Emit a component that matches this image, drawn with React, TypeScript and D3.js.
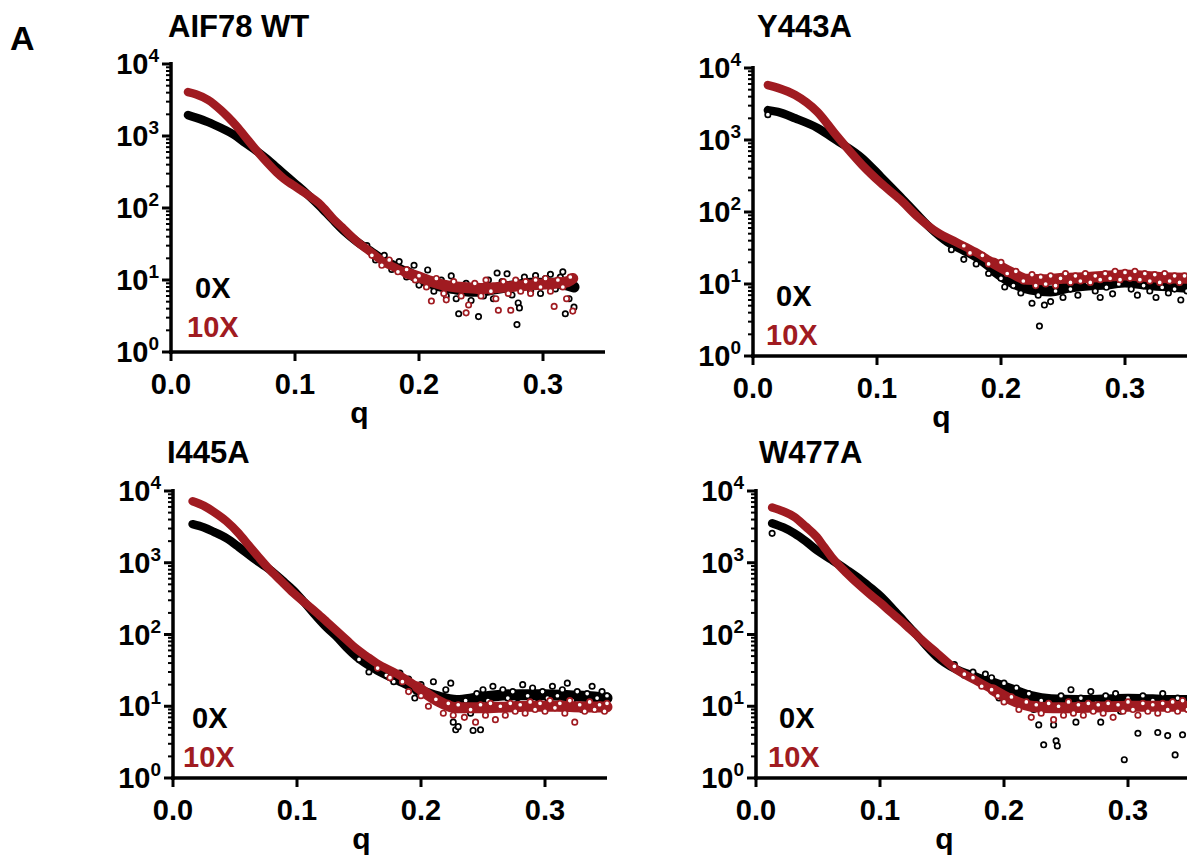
import * as d3 from "d3";

// values (q in 1/Å, intensity in a.u.)

// AIF78 WT
const wt0Q = [0.0137, 0.02, 0.03, 0.04, 0.05, 0.06, 0.07, 0.08, 0.09, 0.1, 0.11, 0.12, 0.13, 0.14, 0.15, 0.16, 0.17, 0.18, 0.19, 0.2, 0.21, 0.22, 0.23, 0.24, 0.25, 0.26, 0.27, 0.28, 0.29, 0.3, 0.31, 0.32, 0.325];
const wt0I = [1950, 1800, 1560, 1300, 1060, 800, 600, 440, 310, 220, 155, 106, 70, 47, 34, 26, 20, 16, 13, 10.5, 9, 8, 7.5, 7, 7, 7.5, 8, 8.5, 9, 9, 9, 8.5, 8];
const wt10Q = [0.0137, 0.02, 0.03, 0.04, 0.046, 0.054, 0.062, 0.07, 0.078, 0.085, 0.091, 0.098, 0.105, 0.112, 0.119, 0.125, 0.131, 0.138, 0.145, 0.152, 0.159, 0.166, 0.172, 0.18, 0.19, 0.2, 0.21, 0.22, 0.23, 0.24, 0.25, 0.26, 0.27, 0.28, 0.29, 0.3, 0.31, 0.32, 0.324];
const wt10I = [4070, 3800, 3160, 2300, 1830, 1300, 880, 600, 420, 315, 255, 210, 175, 145, 118, 92, 70, 54, 41, 32, 26, 21, 17.5, 15, 12.5, 11, 9.5, 8.5, 8, 7.8, 7.6, 7.8, 8, 8.3, 8.5, 8.8, 9, 9.5, 10.5];
const wt0Noise = [[0.158, 30], [0.165, 19], [0.172, 22], [0.178, 14], [0.184, 18], [0.19, 11], [0.196, 16], [0.2, 8.5], [0.207, 13.8], [0.212, 7], [0.218, 10], [0.222, 6], [0.226, 11.4], [0.23, 5.5], [0.232, 3.4], [0.238, 9], [0.242, 5.2], [0.248, 3.1], [0.252, 6], [0.256, 10], [0.26, 5.5], [0.263, 12.5], [0.267, 9.5], [0.271, 12.2], [0.275, 6.2], [0.279, 2.4], [0.28, 4.8], [0.281, 4.1], [0.285, 11], [0.29, 7], [0.294, 11.5], [0.298, 6.5], [0.302, 10.5], [0.306, 12], [0.31, 7.5], [0.314, 11], [0.316, 13], [0.318, 3.4], [0.321, 5.5], [0.323, 10], [0.325, 4.2]];
const wt10Noise = [[0.162, 22], [0.17, 16], [0.176, 19], [0.183, 13], [0.19, 14], [0.197, 10], [0.2, 11.5], [0.206, 8], [0.21, 5.1], [0.214, 10.5], [0.22, 6.5], [0.222, 5.3], [0.228, 9.5], [0.234, 6], [0.238, 3.5], [0.24, 4.5], [0.245, 9], [0.25, 6], [0.254, 10], [0.258, 7], [0.262, 5.5], [0.264, 3.8], [0.268, 9.5], [0.272, 6.5], [0.274, 3.8], [0.278, 10], [0.282, 7], [0.286, 9.5], [0.29, 6.5], [0.294, 10], [0.298, 8], [0.302, 10.5], [0.306, 7], [0.309, 4.3], [0.312, 10], [0.316, 8], [0.319, 5.5], [0.322, 11], [0.324, 3.7]];

// Y443A
const y0Q = [0.012, 0.02, 0.034, 0.052, 0.067, 0.088, 0.103, 0.119, 0.133, 0.143, 0.157, 0.17, 0.179, 0.194, 0.209, 0.224, 0.24, 0.254, 0.27, 0.285, 0.3, 0.315, 0.33, 0.35];
const y0I = [2600, 2450, 2000, 1470, 1000, 560, 310, 162, 90, 60, 38, 29, 24, 15.6, 10.5, 8.5, 8, 9, 9.7, 10, 10.7, 10, 9.5, 9];
const y10Q = [0.012, 0.02, 0.034, 0.052, 0.067, 0.088, 0.103, 0.119, 0.133, 0.148, 0.164, 0.179, 0.194, 0.209, 0.221, 0.235, 0.25, 0.27, 0.29, 0.3, 0.315, 0.33, 0.35];
const y10I = [5800, 5300, 4220, 2450, 1170, 450, 253, 147, 85, 53, 38, 28, 19.6, 14.2, 11.6, 11.5, 12, 12.3, 13, 13.3, 12.8, 12.3, 12];
const y0Noise = [[0.012, 2250], [0.16, 30], [0.17, 22], [0.18, 19], [0.19, 14], [0.2, 12], [0.203, 9.1], [0.21, 9.5], [0.216, 7.5], [0.225, 5.4], [0.23, 7], [0.231, 2.6], [0.235, 5.1], [0.24, 5.7], [0.244, 8], [0.25, 6.5], [0.256, 8.5], [0.262, 7], [0.27, 10.5], [0.276, 8], [0.28, 6.5], [0.285, 9], [0.29, 7.3], [0.295, 10], [0.3, 14], [0.305, 8.5], [0.31, 7], [0.315, 9.5], [0.32, 8], [0.325, 6.5], [0.33, 9], [0.335, 7.5], [0.34, 8.5], [0.345, 6], [0.35, 8]];
const y10Noise = [[0.17, 34], [0.175, 27], [0.185, 25], [0.19, 19], [0.2, 20], [0.205, 14], [0.212, 15], [0.218, 11], [0.225, 13.5], [0.228, 9.5], [0.232, 12.5], [0.236, 10], [0.24, 13], [0.244, 9.5], [0.248, 12], [0.252, 14], [0.256, 10.5], [0.26, 13], [0.264, 11], [0.268, 14], [0.272, 10.5], [0.276, 13], [0.28, 11.5], [0.284, 14], [0.288, 12], [0.292, 15], [0.296, 11.5], [0.3, 14.5], [0.304, 12], [0.308, 15], [0.312, 11.5], [0.316, 14], [0.32, 11], [0.324, 13.5], [0.328, 10.5], [0.332, 14], [0.336, 11], [0.34, 13], [0.344, 10.5], [0.348, 13]];

// I445A
const i0Q = [0.0158, 0.025, 0.033, 0.043, 0.053, 0.065, 0.078, 0.088, 0.097, 0.106, 0.116, 0.124, 0.132, 0.14, 0.148, 0.164, 0.181, 0.197, 0.213, 0.229, 0.245, 0.26, 0.28, 0.3, 0.32, 0.34, 0.35];
const i0I = [3450, 3100, 2690, 2200, 1660, 1150, 800, 570, 415, 280, 176, 125, 93, 66, 49, 32, 23, 17, 13.6, 12, 13, 14, 14.5, 14.5, 14, 13.5, 13];
const i10Q = [0.0158, 0.025, 0.033, 0.043, 0.053, 0.061, 0.069, 0.078, 0.088, 0.097, 0.106, 0.116, 0.124, 0.132, 0.14, 0.148, 0.156, 0.164, 0.181, 0.197, 0.213, 0.229, 0.25, 0.27, 0.29, 0.31, 0.33, 0.35];
const i10I = [7200, 6200, 5100, 3800, 2570, 1750, 1200, 800, 540, 380, 280, 200, 150, 112, 84, 63, 50, 40, 28, 18.6, 12, 9.5, 9.5, 9.8, 10, 10, 9.8, 9.8];
const i0Noise = [[0.15, 45], [0.158, 30], [0.165, 38], [0.172, 27], [0.178, 22], [0.183, 29], [0.19, 24], [0.195, 13], [0.2, 20], [0.205, 15], [0.21, 22], [0.215, 11], [0.22, 17], [0.224, 21], [0.226, 6], [0.228, 4.7], [0.23, 5.2], [0.232, 9], [0.236, 12], [0.24, 8], [0.242, 4.6], [0.245, 15], [0.248, 4.7], [0.25, 17], [0.254, 12], [0.258, 19], [0.262, 10], [0.266, 17], [0.27, 13], [0.274, 16], [0.278, 11], [0.282, 20], [0.286, 14], [0.29, 18], [0.294, 11], [0.298, 16], [0.302, 13], [0.306, 19], [0.31, 14], [0.314, 17], [0.318, 21], [0.322, 12], [0.326, 16], [0.33, 9], [0.334, 15], [0.338, 19], [0.342, 13], [0.346, 16], [0.35, 14]];
const i10Noise = [[0.165, 34], [0.175, 25], [0.185, 22], [0.19, 16], [0.2, 14], [0.206, 10], [0.212, 12.5], [0.218, 8], [0.222, 11], [0.226, 7.5], [0.23, 10.5], [0.235, 7], [0.24, 9], [0.244, 6], [0.248, 10.5], [0.252, 7.5], [0.256, 11], [0.26, 6.5], [0.264, 10], [0.268, 7.5], [0.272, 11], [0.276, 8.5], [0.28, 10.5], [0.284, 8], [0.288, 11.5], [0.292, 9], [0.296, 11], [0.3, 8.5], [0.304, 12], [0.308, 9.5], [0.312, 11], [0.316, 8], [0.32, 12], [0.324, 6], [0.328, 10.5], [0.332, 8.5], [0.336, 11.5], [0.34, 9], [0.344, 10.5], [0.348, 8.5], [0.35, 11]];

// W477A
const w0Q = [0.013, 0.022, 0.031, 0.04, 0.049, 0.061, 0.073, 0.085, 0.093, 0.101, 0.108, 0.116, 0.124, 0.131, 0.138, 0.146, 0.161, 0.177, 0.191, 0.206, 0.222, 0.238, 0.26, 0.28, 0.3, 0.32, 0.34, 0.35];
const w0I = [3550, 3100, 2570, 2000, 1500, 1100, 800, 570, 440, 335, 250, 177, 125, 93, 68, 49, 33, 26, 21, 17, 13.6, 12.3, 12, 12.2, 12.5, 12.3, 12, 12];
const w10Q = [0.013, 0.022, 0.031, 0.04, 0.049, 0.055, 0.061, 0.073, 0.085, 0.093, 0.101, 0.108, 0.116, 0.124, 0.131, 0.138, 0.146, 0.161, 0.177, 0.191, 0.206, 0.222, 0.24, 0.26, 0.28, 0.3, 0.32, 0.34, 0.35];
const w10I = [5900, 5200, 4350, 3200, 2290, 1650, 1200, 720, 460, 350, 270, 210, 160, 120, 93, 72, 55, 33, 23, 17, 12.3, 10, 9.5, 9.6, 9.8, 10, 10, 10, 10];
const w0Noise = [[0.013, 2570], [0.15, 45], [0.16, 38], [0.168, 27], [0.175, 30], [0.18, 22], [0.185, 28], [0.19, 25], [0.196, 13], [0.2, 21], [0.205, 14], [0.21, 18], [0.215, 11], [0.22, 15], [0.224, 9], [0.228, 5.5], [0.23, 12], [0.232, 2.9], [0.236, 10], [0.24, 5.5], [0.242, 3.3], [0.243, 2.8], [0.246, 14], [0.25, 9], [0.254, 17], [0.258, 6], [0.262, 13], [0.266, 9.5], [0.27, 16], [0.274, 11], [0.278, 6], [0.282, 14], [0.286, 10], [0.29, 15], [0.294, 8.5], [0.297, 1.8], [0.3, 13], [0.304, 9.5], [0.308, 4.2], [0.312, 14], [0.316, 9], [0.32, 12], [0.324, 4.3], [0.328, 15], [0.332, 3.9], [0.335, 10], [0.338, 2.1], [0.34, 13], [0.344, 4], [0.348, 11]];
const w10Noise = [[0.16, 36], [0.168, 28], [0.175, 25], [0.182, 19], [0.19, 17], [0.195, 14], [0.2, 11.5], [0.206, 13.5], [0.212, 9], [0.218, 11.5], [0.222, 7], [0.226, 10.5], [0.23, 8], [0.236, 11], [0.24, 6.5], [0.244, 10], [0.248, 7.5], [0.252, 11.5], [0.256, 8], [0.26, 10.5], [0.264, 7.5], [0.268, 11], [0.272, 8.5], [0.276, 10.5], [0.28, 8], [0.284, 11], [0.288, 7], [0.292, 10.5], [0.296, 8.5], [0.3, 11.5], [0.304, 9], [0.308, 7.5], [0.312, 11], [0.316, 8.5], [0.32, 10.5], [0.324, 8], [0.328, 11], [0.332, 9], [0.336, 11.5], [0.34, 8.5], [0.344, 12], [0.348, 9]];

const xTicks = [0, 0.1, 0.2, 0.3];
const yDecades = [0, 1, 2, 3, 4];

const RED = "#a01b21";
const FONT = "'Liberation Sans', Arial, Helvetica, sans-serif";

const panels = [
  { title: "AIF78 WT", s0: [wt0Q, wt0I, wt0Noise], s10: [wt10Q, wt10I, wt10Noise], x0: 171, top: 64, bottom: 352, tx: 168, ty: 37, l0: [195, 298], l10: [187, 337] },
  { title: "Y443A", s0: [y0Q, y0I, y0Noise], s10: [y10Q, y10I, y10Noise], x0: 753, top: 68, bottom: 356, tx: 757, ty: 37, l0: [776, 306], l10: [766, 345] },
  { title: "I445A", s0: [i0Q, i0I, i0Noise], s10: [i10Q, i10I, i10Noise], x0: 173, top: 491, bottom: 778, tx: 167, ty: 463, l0: [192, 728], l10: [183, 767] },
  { title: "W477A", s0: [w0Q, w0I, w0Noise], s10: [w10Q, w10I, w10Noise], x0: 756, top: 491, bottom: 778, tx: 759, ty: 463, l0: [779, 728], l10: [768, 767] },
];

function Series({ q, I, noise, x, y, color }) {
  const pts = q.map((d, i) => [d, I[i]]);
  const line = d3.line().x(d => x(d[0])).y(d => y(d[1])).curve(d3.curveMonotoneX);
  // the noisy tail is a wider cloud of overlapping markers
  const tail = pts.filter(d => d[0] >= 0.19);
  return (
    <g>
      <path d={line(pts)} fill="none" stroke={color} strokeWidth={8.5} strokeLinecap="round" strokeLinejoin="round" />
      <path d={line(tail)} fill="none" stroke={color} strokeWidth={11} strokeLinecap="round" strokeLinejoin="round" />
      {noise.map((d, i) => (
        <circle key={i} cx={x(d[0])} cy={y(d[1])} r={2.7} fill="#fff" stroke={color} strokeWidth={1.7} />
      ))}
    </g>
  );
}

function Panel({ p }) {
  const x = d3.scaleLinear().domain([0, 0.35]).range([p.x0, p.x0 + 434]);
  const y = d3.scaleLog().domain([1, 10000]).range([p.bottom, p.top]);
  const minor = [];
  yDecades.slice(0, 4).forEach(e => {
    for (let m = 2; m <= 9; m++) minor.push(m * Math.pow(10, e));
  });
  return (
    <g fontFamily={FONT} fontWeight="bold">
      <text x={p.tx} y={p.ty} fontSize={31}>{p.title}</text>

      <Series q={p.s0[0]} I={p.s0[1]} noise={p.s0[2]} x={x} y={y} color="#000" />
      <Series q={p.s10[0]} I={p.s10[1]} noise={p.s10[2]} x={x} y={y} color={RED} />

      {/* y axis */}
      <line x1={p.x0} x2={p.x0} y1={p.top - 2} y2={p.bottom + 2} stroke="#000" strokeWidth={3.5} />
      {minor.map(v => (
        <line key={v} x1={p.x0 - 5} x2={p.x0} y1={y(v)} y2={y(v)} stroke="#000" strokeWidth={2} />
      ))}
      {yDecades.map(e => (
        <g key={e}>
          <line x1={p.x0 - 9} x2={p.x0} y1={y(Math.pow(10, e))} y2={y(Math.pow(10, e))} stroke="#000" strokeWidth={3} />
          <text x={p.x0 - 12} y={y(Math.pow(10, e)) + 10} fontSize={29} textAnchor="end">
            10<tspan fontSize={19} dy={-12}>{e}</tspan>
          </text>
        </g>
      ))}

      {/* x axis */}
      <line x1={p.x0 - 2} x2={x(0.35)} y1={p.bottom} y2={p.bottom} stroke="#000" strokeWidth={3.5} />
      {xTicks.map(t => (
        <g key={t}>
          <line x1={x(t)} x2={x(t)} y1={p.bottom} y2={p.bottom + 9} stroke="#000" strokeWidth={3} />
          <text x={x(t)} y={p.bottom + 42} fontSize={29} textAnchor="middle">{t.toFixed(1)}</text>
        </g>
      ))}
      <text x={x(0.152)} y={p.bottom + 71} fontSize={30} textAnchor="middle">q</text>

      <text x={p.l0[0]} y={p.l0[1]} fontSize={29} fill="#000">0X</text>
      <text x={p.l10[0]} y={p.l10[1]} fontSize={29} fill={RED}>10X</text>
    </g>
  );
}

export default function App() {
  return (
    <svg width={1187} height={858} style={{ position: "absolute", left: 0, top: 0, background: "#fff" }}>
      <rect width={1187} height={858} fill="#fff" />
      <text x={10} y={50} fontFamily={FONT} fontWeight="bold" fontSize={34}>A</text>
      {panels.map(p => <Panel key={p.title} p={p} />)}
    </svg>
  );
}
